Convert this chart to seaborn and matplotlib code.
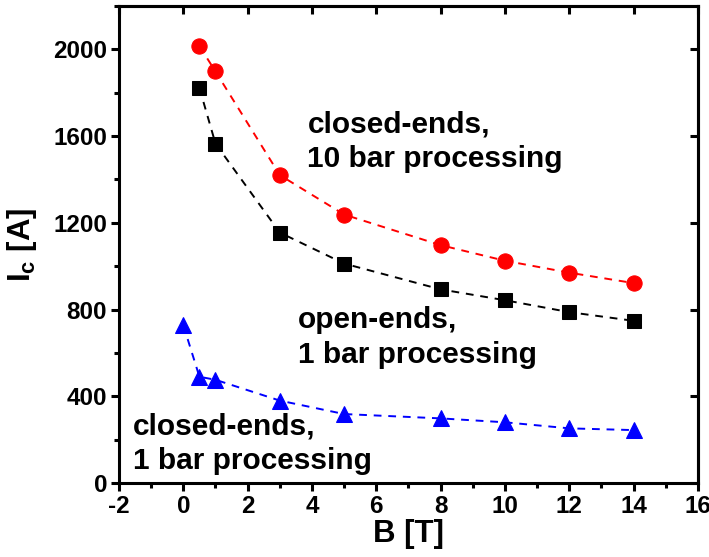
import numpy as np
import pandas as pd
import matplotlib
matplotlib.use('Agg')
import matplotlib.pyplot as plt
from matplotlib.ticker import MultipleLocator
import seaborn as sns

# data
b_closed10 = [0.5, 1, 3, 5, 8, 10, 12, 14]
ic_closed10 = [2015, 1898, 1420, 1238, 1097, 1025, 970, 922]

b_open1 = [0.5, 1, 3, 5, 8, 10, 12, 14]
ic_open1 = [1822, 1565, 1155, 1012, 893, 843, 788, 748]

b_closed1 = [0, 0.5, 1, 3, 5, 8, 10, 12, 14]
ic_closed1 = [728, 490, 476, 380, 318, 298, 280, 252, 244]

labels = ["closed-ends,\n10 bar processing",
          "open-ends,\n1 bar processing",
          "closed-ends,\n1 bar processing"]

sns.set_style("ticks")
plt.rcParams['font.family'] = ['Liberation Sans', 'DejaVu Sans']
plt.rcParams['font.weight'] = 'bold'
plt.rcParams['text.color'] = 'black'
plt.rcParams['axes.labelcolor'] = 'black'
plt.rcParams['xtick.color'] = 'black'
plt.rcParams['ytick.color'] = 'black'
plt.rcParams['axes.edgecolor'] = 'black'
plt.rcParams['axes.unicode_minus'] = False
plt.rcParams['mathtext.fontset'] = 'custom'
plt.rcParams['mathtext.rm'] = 'Liberation Sans:bold'
plt.rcParams['mathtext.bf'] = 'Liberation Sans:bold'
plt.rcParams['mathtext.it'] = 'Liberation Sans:bold'

fig = plt.figure(figsize=(7.09, 5.57), dpi=100)
ax = fig.add_axes([119 / 709, 1 - 483 / 557, (698 - 119) / 709, (483 - 6) / 557])

series = [
    (b_closed10, ic_closed10, 'red', 'o', 11),
    (b_open1, ic_open1, 'black', 's', 9.5),
    (b_closed1, ic_closed1, 'blue', '^', 11.5),
]
for xs, ys, col, mk, ms in series:
    df = pd.DataFrame({'B': xs, 'Ic': ys})
    sns.lineplot(data=df, x='B', y='Ic', ax=ax, color=col, marker=mk,
                 markersize=ms, markeredgecolor=col, linestyle=(0, (4, 3.5)),
                 linewidth=1.4)

ax.set_xlim(-2, 16)
ax.set_ylim(0, 2200)
ax.xaxis.set_major_locator(MultipleLocator(2))
ax.xaxis.set_minor_locator(MultipleLocator(1))
ax.yaxis.set_minor_locator(MultipleLocator(200))
ax.set_yticks([0, 400, 800, 1200, 1600, 2000])

for s in ax.spines.values():
    s.set_linewidth(2.2)
ax.tick_params(which='major', direction='out', length=5.5, width=2.2,
               labelsize=17.5, pad=3)
ax.tick_params(which='minor', direction='out', length=3.5, width=2.2)

# inward major ticks on the top and right
sec_x = ax.secondary_xaxis('top')
sec_x.xaxis.set_major_locator(MultipleLocator(2))
sec_x.tick_params(direction='in', length=6, width=2.2, labeltop=False)
sec_x.spines['top'].set_linewidth(2.2)
sec_y = ax.secondary_yaxis('right')
sec_y.yaxis.set_major_locator(MultipleLocator(400))
sec_y.tick_params(direction='in', length=6, width=2.2, labelright=False)
sec_y.spines['right'].set_linewidth(2.2)

ax.set_xlabel('B [T]', fontsize=22.5, fontweight='bold', labelpad=1)
ax.set_ylabel(r'I$_\mathrm{c}$ [A]', fontsize=22.5, fontweight='bold', labelpad=10)

ax.text(3.86, 1575, labels[0], fontsize=21.5, fontweight='bold', va='center',
        ha='left', linespacing=1.3)
ax.text(3.55, 670, labels[1], fontsize=21.5, fontweight='bold', va='center',
        ha='left', linespacing=1.3)
ax.text(-1.57, 182, labels[2], fontsize=21.5, fontweight='bold', va='center',
        ha='left', linespacing=1.3)

fig.savefig('out.png', dpi=100)
